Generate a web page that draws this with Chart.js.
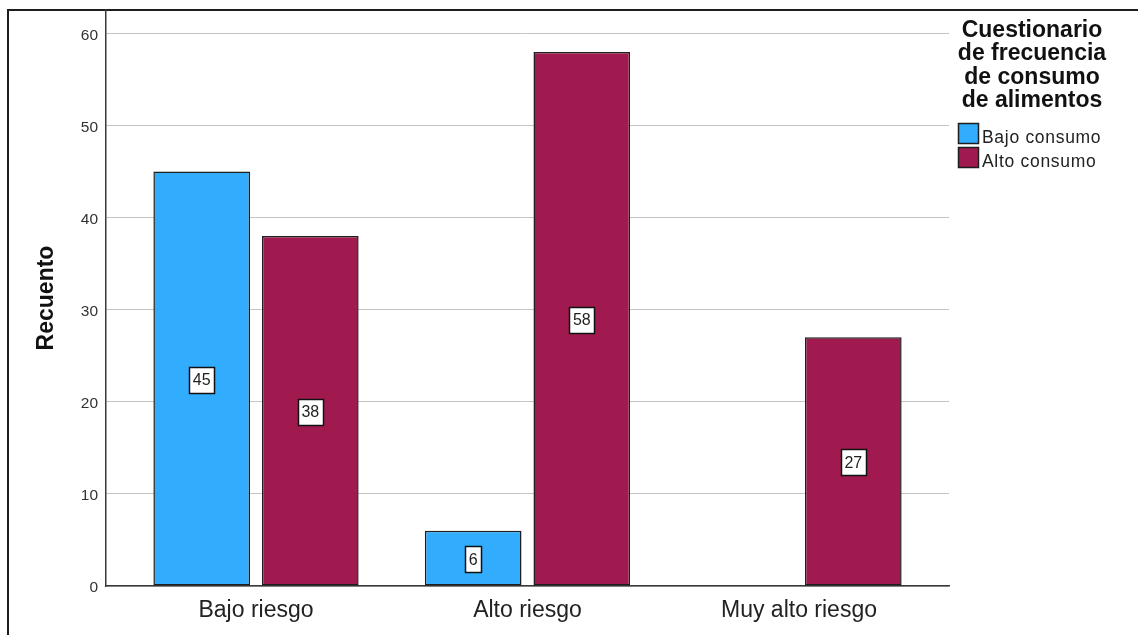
<!DOCTYPE html>
<html>
<head>
<meta charset="utf-8">
<script src="https://cdn.jsdelivr.net/npm/chart.js@4/dist/chart.umd.min.js"></script>
<style>
  html, body { margin: 0; padding: 0; background: #ffffff; }
  #wrap { width: 1138px; height: 635px; position: relative; }
</style>
</head>
<body>
<div id="wrap"><canvas id="c" width="1138" height="635"></canvas></div>
<script>
// Counts per risk group, split by food-consumption level
const categories = ['Bajo riesgo', 'Alto riesgo', 'Muy alto riesgo'];
const bajoConsumo = [45, 6, null];
const altoConsumo = [38, 58, 27];
const seriesNames = ['Bajo consumo', 'Alto consumo'];
const seriesColors = ['#32adfe', '#a11a4f'];
const yTicks = [0, 10, 20, 30, 40, 50, 60];
const legendTitle = ['Cuestionario', 'de frecuencia', 'de consumo', 'de alimentos'];
const yTitle = 'Recuento';

const FONT = "'Liberation Sans', Arial, sans-serif";

const toPoints = (vals) => vals.map((v, i) => ({ x: i, y: v }));

// White page with the outer frame (left and top edges)
const framePlugin = {
  id: 'frame',
  beforeDraw(chart) {
    const ctx = chart.ctx;
    ctx.save();
    ctx.fillStyle = '#ffffff';
    ctx.fillRect(0, 0, chart.width, chart.height);
    ctx.strokeStyle = '#1e1e1e';
    ctx.lineWidth = 2;
    ctx.beginPath();
    ctx.moveTo(8, chart.height + 2);
    ctx.lineTo(8, 10);
    ctx.lineTo(chart.width + 2, 10);
    ctx.stroke();
    ctx.restore();
  }
};

// Boxed value labels in the middle of each bar
const valueLabelPlugin = {
  id: 'valueLabels',
  afterDatasetsDraw(chart) {
    const ctx = chart.ctx;
    ctx.save();
    ctx.font = '16px ' + FONT;
    ctx.textAlign = 'center';
    ctx.textBaseline = 'middle';
    chart.data.datasets.forEach((ds, di) => {
      const meta = chart.getDatasetMeta(di);
      meta.data.forEach((el, i) => {
        const v = ds.data[i].y;
        if (v === null || v === undefined) return;
        const txt = String(v);
        const cx = el.x;
        const cy = (el.y + el.base) / 2;
        const w = Math.round(ctx.measureText(txt).width + 7);
        const h = 26;
        const x0 = Math.round(cx - w / 2) + 0.5;
        const y0 = Math.round(cy - h / 2) + 1.5;
        ctx.fillStyle = '#ffffff';
        ctx.fillRect(x0, y0, w, h);
        ctx.strokeStyle = '#111111';
        ctx.lineWidth = 1.5;
        ctx.strokeRect(x0, y0, w, h);
        ctx.fillStyle = '#222222';
        ctx.fillText(txt, cx, cy + 2);
      });
    });
    ctx.restore();
  }
};

// Legend on the right: bold multi-line title and swatches
const sideLegendPlugin = {
  id: 'sideLegend',
  afterDraw(chart) {
    const ctx = chart.ctx;
    ctx.save();
    ctx.fillStyle = '#111111';
    ctx.font = 'bold 23px ' + FONT;
    ctx.textAlign = 'center';
    ctx.textBaseline = 'alphabetic';
    legendTitle.forEach((line, i) => {
      ctx.fillText(line, 1032, 37 + i * 23.4);
    });
    ctx.textAlign = 'left';
    ctx.font = '17.5px ' + FONT;
    if ('letterSpacing' in ctx) ctx.letterSpacing = '0.7px';
    chart.data.datasets.forEach((ds, i) => {
      const top = 123.5 + i * 24;
      ctx.fillStyle = ds.backgroundColor;
      ctx.fillRect(958.5, top, 20, 20);
      ctx.strokeStyle = '#1e1e1e';
      ctx.lineWidth = 1.5;
      ctx.strokeRect(958.5, top, 20, 20);
      ctx.fillStyle = '#222222';
      ctx.fillText(ds.label, 982, top + 19.5);
    });
    ctx.restore();
  }
};

new Chart(document.getElementById('c'), {
  type: 'bar',
  data: {
    datasets: [
      {
        label: seriesNames[0],
        data: toPoints(bajoConsumo),
        backgroundColor: seriesColors[0],
        borderColor: '#1e1e1e',
        borderWidth: 1.5,
        borderSkipped: false
      },
      {
        label: seriesNames[1],
        data: toPoints(altoConsumo),
        backgroundColor: seriesColors[1],
        borderColor: '#1e1e1e',
        borderWidth: 1.5,
        borderSkipped: false
      }
    ]
  },
  options: {
    responsive: false,
    animation: false,
    devicePixelRatio: 1,
    categoryPercentage: 0.8,
    barPercentage: 0.89,
    layout: { padding: { top: 10, right: 189, left: 0, bottom: 0 } },
    plugins: {
      legend: { display: false },
      tooltip: { enabled: false }
    },
    scales: {
      x: {
        type: 'linear',
        offset: false,
        min: -0.5525,
        max: 2.5525,
        afterBuildTicks(scale) {
          scale.ticks = categories.map((c, i) => ({ value: i }));
        },
        afterFit(scale) {
          scale.height = 49;
          scale.paddingLeft = 0;
          scale.paddingRight = 0;
        },
        grid: { display: false, drawTicks: false, offset: false },
        border: { display: true, color: '#3a3a3a', width: 1.5 },
        ticks: {
          padding: 11,
          color: '#222222',
          font: { family: FONT, size: 23 },
          maxRotation: 0,
          autoSkip: false,
          callback: (v) => categories[v]
        }
      },
      y: {
        type: 'linear',
        min: 0,
        max: 62.55,
        afterBuildTicks(scale) {
          scale.ticks = yTicks.map((v) => ({ value: v }));
        },
        afterFit(scale) {
          scale.width = 106;
          scale.paddingTop = 0;
          scale.paddingBottom = 0;
        },
        grid: { color: '#c4c4c4', lineWidth: 1, drawTicks: false },
        border: { display: true, color: '#3a3a3a', width: 1.5 },
        ticks: {
          padding: 8,
          labelOffset: 2,
          color: '#333333',
          font: { family: FONT, size: 15.5 }
        },
        title: {
          display: true,
          text: yTitle,
          color: '#111111',
          font: { family: FONT, size: 23, weight: 'bold' },
          padding: { top: 33, bottom: 0 }
        }
      }
    }
  },
  plugins: [framePlugin, valueLabelPlugin, sideLegendPlugin]
});
</script>
</body>
</html>
